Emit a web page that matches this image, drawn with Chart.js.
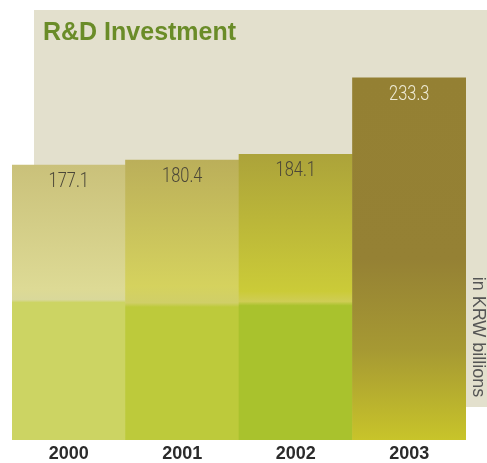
<!DOCTYPE html>
<html>
<head>
<meta charset="utf-8">
<script src="https://cdn.jsdelivr.net/npm/chart.js@4/dist/chart.umd.min.js"></script>
<style>
  html, body { margin: 0; padding: 0; background: #fff; }
  canvas { display: block; }
</style>
</head>
<body>
<canvas id="rdChart" width="487" height="463"></canvas>
<script>
// R&D investment, KRW billions
const years = ["2000", "2001", "2002", "2003"];
const investment = [177.1, 180.4, 184.1, 233.3];
const chartTitle = "R&D Investment";
const unitLabel = "in KRW billions";

// gradient stops per bar, position = fraction of bar height from its top
const barStops = [
  [[0, "#CAC17A"], [0.45, "#DDDA95"], [0.49, "#D9D89A"], [0.5, "#CCD463"], [1, "#CCD463"]],
  [[0, "#BBAF5A"], [0.45, "#D5D25E"], [0.51, "#D0CF68"], [0.525, "#BDCA3B"], [1, "#BDCA3B"]],
  [[0, "#ACA33A"], [0.48, "#CBCB38"], [0.515, "#CFCD55"], [0.53, "#A9C22D"], [1, "#A9C22D"]],
  [[0, "#948033"], [0.5, "#958134"], [0.75, "#A69933"], [1, "#C8C42A"]],
];
const valueColors = ["#4B4738", "#4B4738", "#4B4738", "#EEEAD5"];

function barGradient(ctx) {
  const chart = ctx.chart;
  if (!chart.chartArea || ctx.dataIndex === undefined) return "#ccc";
  const y = chart.scales.y;
  const top = y.getPixelForValue(investment[ctx.dataIndex]);
  const bottom = y.getPixelForValue(0);
  const g = chart.ctx.createLinearGradient(0, top, 0, bottom);
  barStops[ctx.dataIndex].forEach(([p, c]) => g.addColorStop(p, c));
  return g;
}

const decorations = {
  id: "decorations",
  beforeDraw(chart) {
    const c = chart.ctx;
    c.save();
    c.fillStyle = "#E3E0CD";
    c.fillRect(34, 10, 453, 397);
    c.fillStyle = "#6A8C28";
    c.font = "bold 25px 'Liberation Sans', Arial, sans-serif";
    c.textBaseline = "alphabetic";
    c.textAlign = "left";
    c.fillText(chartTitle, 43, 40);
    c.restore();
  },
  afterDatasetsDraw(chart) {
    const c = chart.ctx;
    const meta = chart.getDatasetMeta(0);
    c.save();
    c.textAlign = "center";
    meta.data.forEach((bar, i) => {
      // value inside the bar, narrowed light face
      c.save();
      c.translate(bar.x, bar.y + 17);
      c.scale(0.82, 1);
      c.fillStyle = valueColors[i];
      c.font = "300 20px Roboto, 'DejaVu Sans', sans-serif";
      c.textBaseline = "middle";
      c.fillText(investment[i].toFixed(1), 0, 0);
      c.restore();
      c.fillStyle = "#2B2B2B";
      c.font = "bold 18px 'Liberation Sans', Arial, sans-serif";
      c.textBaseline = "middle";
      c.fillText(years[i], bar.x, 454);
    });
    // unit label, reading top to bottom
    c.translate(478, 337);
    c.rotate(Math.PI / 2);
    c.fillStyle = "#555";
    c.font = "18px 'Liberation Sans', Arial, sans-serif";
    c.textBaseline = "middle";
    c.fillText(unitLabel, 0, 0);
    c.restore();
  },
};

new Chart(document.getElementById("rdChart"), {
  type: "bar",
  data: {
    labels: years,
    datasets: [
      {
        data: investment,
        backgroundColor: barGradient,
        borderWidth: 0,
        categoryPercentage: 1,
        barPercentage: 1,
      },
    ],
  },
  options: {
    responsive: false,
    animation: false,
    layout: { padding: { left: 12, right: 21, top: 10, bottom: 23 } },
    plugins: { legend: { display: false }, tooltip: { enabled: false } },
    scales: {
      x: { display: false },
      y: { display: false, min: 0, max: 277 },
    },
  },
  plugins: [decorations],
});
</script>
</body>
</html>
